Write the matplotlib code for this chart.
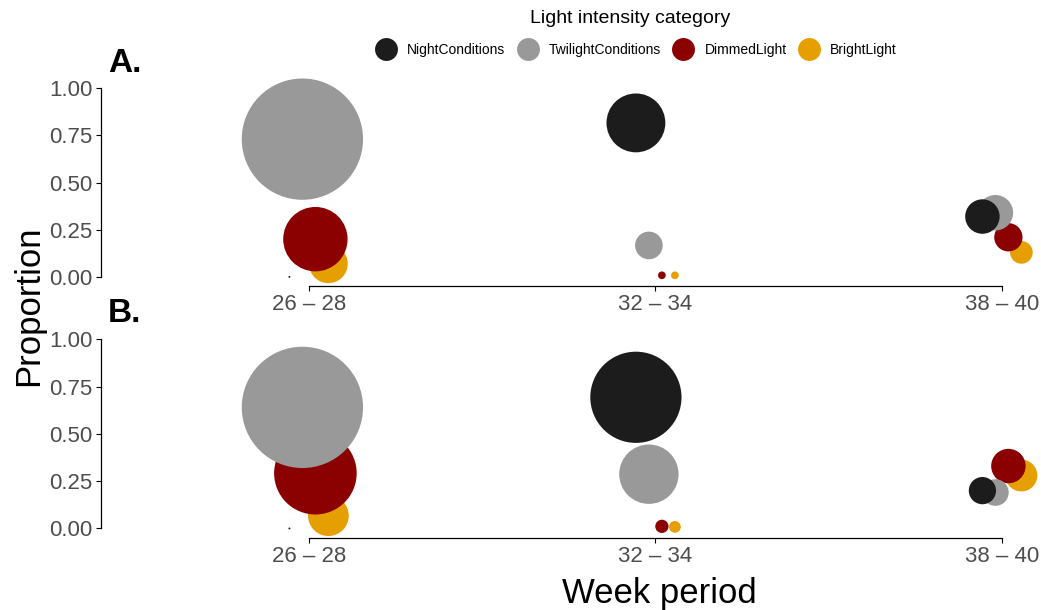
import numpy as np
import matplotlib
matplotlib.use("Agg")
import matplotlib.pyplot as plt
from matplotlib.lines import Line2D

plt.rcParams["font.family"] = ["Liberation Sans", "DejaVu Sans"]

weeks = ["26 – 28", "32 – 34", "38 – 40"]
categories = ["NightConditions", "TwilightConditions", "DimmedLight", "BrightLight"]
colors = ["#1c1c1c", "#999999", "#8b0000", "#e69f00"]

# observation counts: rows = week period, columns = light category
counts_a = np.array([[0, 431, 118, 41],
                     [98, 20, 1, 1],
                     [32, 34, 21, 13]])
counts_b = np.array([[0, 445, 203, 47],
                     [249, 103, 4, 3],
                     [20, 19, 33, 28]])

W, H = 1041, 610
fig = plt.figure(figsize=(W / 100, H / 100), dpi=100)

dodge = 0.15
max_diam = 121.3 * 0.72   # points
min_diam = 1.4


def panel(top_px, bottom_px, counts):
    ax = fig.add_axes([101 / W, 1 - bottom_px / H, (W - 101) / W, (bottom_px - top_px) / H])
    props = counts / counts.sum(axis=1, keepdims=True)
    scale = np.sqrt(counts / counts.max())
    x = np.arange(1, len(weeks) + 1)
    # later categories underneath, NightConditions on top
    for j in reversed(range(len(categories))):
        xs = x + (j - 1.5) * dodge / 4
        d = min_diam + (max_diam - min_diam) * scale[:, j]
        ax.scatter(xs, props[:, j], s=d ** 2, color=colors[j], linewidths=0,
                   clip_on=False, zorder=3)
    ax.set_xlim(0.4, 0.4 + 940 / 346.5)
    ax.set_ylim(-0.05, 1.05)
    ax.set_xticks(x)
    ax.set_xticklabels(weeks)
    ax.set_yticks([0, 0.25, 0.5, 0.75, 1])
    ax.set_yticklabels(["0.00", "0.25", "0.50", "0.75", "1.00"])
    for s in ["top", "right"]:
        ax.spines[s].set_visible(False)
    ax.spines["left"].set_bounds(0, 1)
    ax.spines["bottom"].set_bounds(1, 3)
    for s in ["left", "bottom"]:
        ax.spines[s].set_linewidth(0.9)
    ax.tick_params(length=3.5, width=0.8, pad=2.4, labelsize=16, labelcolor="#4d4d4d")
    ax.patch.set_alpha(0)
    return ax


ax_a = panel(78.9, 286.3, counts_a)
ax_b = panel(329.9, 537.9, counts_b)

fig.text(108 / W, 1 - 72 / H, "A.", fontsize=24, fontweight="bold", va="baseline")
fig.text(108 / W, 1 - 322.5 / H, "B.", fontsize=24, fontweight="bold", va="baseline")

fig.text(29 / W, 1 - 306 / H, "Proportion", fontsize=25, rotation=90, ha="center", va="center")
fig.text(659.5 / W, 1 - 603.3 / H, "Week period", fontsize=25, ha="center", va="baseline")

fig.text(630.5 / W, 1 - 23.3 / H, "Light intensity category", fontsize=14,
         ha="center", va="baseline")
handles = [Line2D([], [], linestyle="none", marker="o", markersize=16.5,
                  markerfacecolor=c, markeredgewidth=0) for c in colors]
leg = fig.legend(handles, categories, loc="center", bbox_to_anchor=(636 / W, 1 - 50 / H),
                 ncol=4, frameon=False, fontsize=10, handlelength=1.6, handletextpad=0.73,
                 columnspacing=0.8, borderpad=0, labelspacing=0)

fig.savefig("out.png", dpi=100)
